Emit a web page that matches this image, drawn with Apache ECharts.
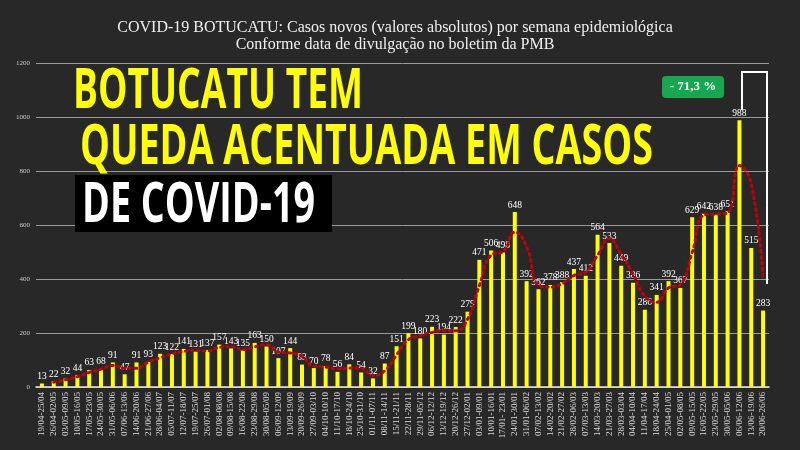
<!DOCTYPE html>
<html><head><meta charset="utf-8">
<script src="https://cdn.jsdelivr.net/npm/echarts@6/dist/echarts.min.js"></script>
<style>html,body{margin:0;padding:0;background:#282828;}#c{width:800px;height:450px;}</style>
</head><body><div id="c"></div>
<script>
var categories = ["19/04-25/04","26/04-02/05","03/05-09/05","10/05-16/05","17/05-23/05","24/05-30/05","31/05-06/06","07/06-13/06","14/06-20/06","21/06-27/06","28/06-04/07","05/07-11/07","12/07-18/07","19/07-25/07","26/07-01/08","02/08-08/08","09/08-15/08","16/08-22/08","23/08-29/08","30/08-05/09","06/09-12/09","13/09-19/09","20/09-26/09","27/09-03/10","04/10-10/10","11/10-17/10","18/10-24/10","25/10-31/10","01/11-07/11","08/11-14/11","15/11-21/11","22/11-28/11","29/11-05/12","06/12-12/12","13/12-19/12","20/12-26/12","27/12-02/01","03/01-09/01","10/01-16/01","17/01- 23/01","24/01-30/01","31/01-06/02","07/02-13/02","14/02-20/02","21/02-27/02","28/02-06/03","07/03-13/03","14/03-20/03","21/03-27/03","28/03-03/04","04/04-10/04","11/04-17/04","18/04-24/04","25/04-01/05","02/05-08/05","09/05-15/05","16/05-22/05","23/05-29/05","30/05-05/06","06/06-12/06","13/06-19/06","20/06-26/06"];
var cases = [13,22,32,44,63,68,91,47,91,93,123,122,141,131,137,157,143,135,163,150,107,144,83,70,78,56,84,54,32,87,151,199,180,223,194,222,279,471,506,498,648,392,362,378,388,437,412,564,533,449,386,286,341,392,367,629,642,638,651,988,515,283];
var trend = [null,18,27,38,54,66,80,69,69,92,108,123,132,136,134,147,150,139,149,157,129,126,114,77,74,67,70,69,43,60,119,175,190,202,209,208,251,375,489,502,573,520,377,370,383,413,425,488,549,491,418,336,314,367,380,498,636,640,645,820,752,399];
var yTicks = [0,200,400,600,800,1000,1200];
var headline1 = "BOTUCATU TEM";
var headline2 = "QUEDA ACENTUADA EM CASOS";
var headline3 = "DE COVID-19";
var badge = "- 71,3 %";
var title1 = "COVID-19 BOTUCATU: Casos novos (valores absolutos) por semana epidemiológica";
var title2 = "Conforme data de divulgação no boletim da PMB";

var bigFont = 'bold 56px "Open Sans"';
var cv = document.createElement('canvas').getContext('2d');
cv.font = bigFont;
function fitScale(t, w){ return w / cv.measureText(t).width; }

var chart = echarts.init(document.getElementById('c'), null, {renderer:'canvas'});
chart.setOption({
  backgroundColor: '#282828',
  animation: false,
  grid: {left: 36, right: 31, top: 63, bottom: 63},
  xAxis: {
    type: 'category', data: categories,
    axisLine: {lineStyle: {color: '#e8e8e8', width: 1.5}},
    axisTick: {show: false},
    axisLabel: {rotate: 90, interval: 0, color: '#dddddd', fontFamily: 'Liberation Serif', fontSize: 9, margin: 5}
  },
  yAxis: {
    type: 'value', min: yTicks[0], max: yTicks[yTicks.length-1], interval: 200,
    axisLine: {show: false}, axisTick: {show: false},
    axisLabel: {color: '#cccccc', fontFamily: 'Liberation Serif', fontSize: 7, margin: 6, formatter: function(v){ return String(v); }},
    splitLine: {lineStyle: {color: '#9a9a9a', width: 1}}
  },
  series: [
    {type: 'bar', data: cases, barWidth: 4, itemStyle: {color: '#ffff00'},
     label: {show: true, position: 'top', distance: 2, color: '#ffffff', fontFamily: 'Liberation Serif', fontSize: 9.5}},
    {type: 'line', data: trend, smooth: true, showSymbol: false, connectNulls: false,
     lineStyle: {color: '#c0000a', width: 3, type: [2, 4], cap: 'round'}, z: 3}
  ],
  graphic: [
    {type: 'text', x: 395, y: 28, style: {text: title1, font: '16px "Liberation Serif"', fill: '#f0f0f0', textAlign: 'center', textVerticalAlign: 'middle'}},
    {type: 'text', x: 395, y: 45, style: {text: title2, font: '16px "Liberation Serif"', fill: '#f0f0f0', textAlign: 'center', textVerticalAlign: 'middle'}},
    {type: 'text', x: 73, y: 92, scaleX: fitScale(headline1, 290), z: 10, style: {text: headline1, font: bigFont, fill: '#ffff00', textVerticalAlign: 'middle'}},
    {type: 'rect', shape: {x: 75, y: 175, width: 257, height: 57}, z: 10, style: {fill: '#000000'}},
    {type: 'text', x: 80, y: 148, scaleX: fitScale(headline2, 573), z: 10, style: {text: headline2, font: bigFont, fill: '#ffff00', textVerticalAlign: 'middle'}},
    {type: 'text', x: 82, y: 206, scaleX: fitScale(headline3, 233), z: 11, style: {text: headline3, font: bigFont, fill: '#ffffff', textVerticalAlign: 'middle'}},
    {type: 'rect', shape: {x: 662, y: 76, width: 62, height: 22, r: 4}, z: 10, style: {fill: '#16a750'}},
    {type: 'text', x: 693, y: 87, z: 11, style: {text: badge, font: 'bold 13px "Liberation Serif"', fill: '#ffffff', textAlign: 'center', textVerticalAlign: 'middle'}},
    {type: 'polyline', z: 10, shape: {points: [[742,110],[742,72],[767,72],[767,284]]}, style: {stroke: '#ffffff', lineWidth: 2, fill: null}}
  ]
});
</script></body></html>
